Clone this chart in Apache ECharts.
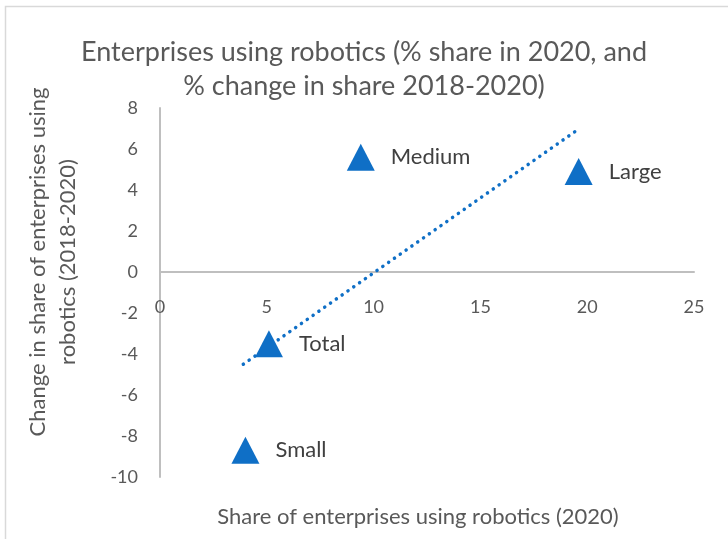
<!DOCTYPE html>
<html>
<head>
<meta charset="utf-8">
<script src="https://cdn.jsdelivr.net/npm/echarts@6/dist/echarts.min.js"></script>
<style>
  html, body { margin: 0; padding: 0; background: #fff; }
  #chart { width: 728px; height: 539px; }
</style>
</head>
<body>
<div id="chart"></div>
<script>
// 各规模企业：2020年机器人使用占比 / 2018-2020占比变化
const names = ['Small', 'Total', 'Medium', 'Large'];
const shareX = [4.0, 5.1, 9.4, 19.6];
const changeY = [-8.7, -3.5, 5.6, 4.9];

// 趋势线两端
const trendX = [3.9, 19.5];
const trendY = [-4.5, 6.9];

const yTicks = [8, 6, 4, 2, 0, -2, -4, -6, -8, -10];
const xTicks = [0, 5, 10, 15, 20, 25];

const fontFamily = 'Lato, "Open Sans", sans-serif';
const textColor = '#595959';
const blue = '#0F6FC6';

const chart = echarts.init(document.getElementById('chart'));

const option = {
  animation: false,
  backgroundColor: '#fff',
  title: {
    text: 'Enterprises using robotics (% share in 2020, and\n% change in share 2018-2020)',
    left: 'center',
    top: 30,
    textStyle: {
      fontFamily,
      fontSize: 27,
      fontWeight: 'normal',
      color: '#595959',
      lineHeight: 34
    }
  },
  graphic: [
    {
      type: 'rect',
      shape: { x: 5.5, y: 6.5, width: 740, height: 540 },
      style: { fill: 'none', stroke: '#d9d9d9', lineWidth: 1.5 },
      silent: true
    },
    {
      type: 'text',
      x: 53,
      y: 262,
      rotation: Math.PI / 2,
      style: {
        text: 'Change in share of enterprises using\nrobotics (2018-2020)',
        fontFamily,
        fontSize: 22,
        lineHeight: 30,
        fill: textColor,
        align: 'center',
        verticalAlign: 'middle'
      }
    },
    {
      type: 'text',
      x: 418,
      y: 517,
      style: {
        text: 'Share of enterprises using robotics (2020)',
        fontFamily,
        fontSize: 22,
        fill: textColor,
        align: 'center',
        verticalAlign: 'middle'
      }
    }
  ],
  grid: {
    left: 160,
    right: 34,
    top: 108,
    bottom: 62
  },
  xAxis: {
    type: 'value',
    min: xTicks[0],
    max: xTicks[xTicks.length - 1],
    interval: 5,
    // 横轴画在 y=0 处（标签跟随轴线）
    offset: -205,
    axisLine: { show: true, onZero: false, lineStyle: { color: '#bfbfbf', width: 2 } },
    axisTick: { show: false },
    splitLine: { show: false },
    axisLabel: {
      margin: 26,
      fontFamily,
      fontSize: 18,
      color: textColor
    }
  },
  yAxis: {
    type: 'value',
    min: yTicks[yTicks.length - 1],
    max: yTicks[0],
    interval: 2,
    axisLine: { show: true, lineStyle: { color: '#bfbfbf', width: 2 } },
    axisTick: { show: false },
    splitLine: { show: false },
    axisLabel: {
      margin: 22,
      fontFamily,
      fontSize: 18,
      color: textColor
    }
  },
  series: [
    {
      type: 'line',
      data: trendX.map((x, i) => [x, trendY[i]]),
      symbol: 'none',
      lineStyle: { color: blue, width: 3.5, type: [0.1, 7], cap: 'round' },
      z: 1
    },
    {
      type: 'scatter',
      data: shareX.map((x, i) => ({ value: [x, changeY[i]], name: names[i] })),
      symbol: 'triangle',
      symbolSize: [28, 27],
      itemStyle: { color: blue, opacity: 1 },
      label: {
        show: true,
        position: 'right',
        distance: 16,
        formatter: p => p.name,
        fontFamily,
        fontSize: 22,
        color: '#404040'
      },
      z: 2
    }
  ]
};

chart.setOption(option);
</script>
</body>
</html>
